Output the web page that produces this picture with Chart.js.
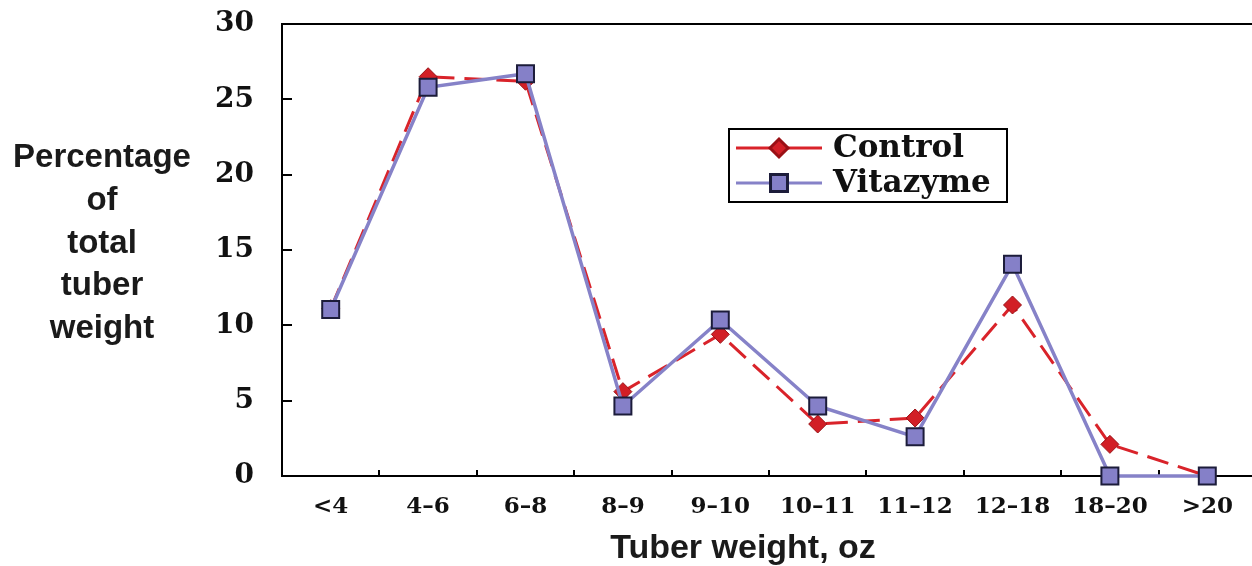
<!DOCTYPE html>
<html>
<head>
<meta charset="utf-8">
<script src="https://cdn.jsdelivr.net/npm/chart.js@4.4.0/dist/chart.umd.min.js"></script>
<style>
html, body { margin: 0; padding: 0; background: #fff; overflow: hidden; }
</style>
</head>
<body>
<canvas id="myChart" width="1270" height="566"></canvas>
<script>
const categories = ['<4', '4–6', '6–8', '8–9', '9–10', '10–11', '11–12', '12–18', '18–20', '>20'];
const control = [11.1, 26.5, 26.2, 5.6, 9.4, 3.45, 3.85, 11.35, 2.1, 0];
const vitazyme = [11.05, 25.8, 26.7, 4.65, 10.35, 4.65, 2.6, 14.05, 0, 0];
const yTicks = [0, 5, 10, 15, 20, 25, 30];
const yTitle = ['Percentage', 'of', 'total', 'tuber', 'weight'];
const xTitle = 'Tuber weight, oz';

const red = '#d9232a';
const blue = '#8682c8';

// inward tick marks, top frame line, axis titles and the boxed legend
const decor = {
    id: 'decor',
    beforeDatasetsDraw(chart) {
        const ctx = chart.ctx;
        const a = chart.chartArea;
        const x = chart.scales.x;
        const y = chart.scales.y;
        ctx.save();
        ctx.strokeStyle = '#000';
        ctx.lineWidth = 2;
        ctx.beginPath();
        ctx.moveTo(a.left - 1, a.top);
        ctx.lineTo(a.right, a.top);
        for (const v of yTicks) {
            const py = Math.round(y.getPixelForValue(v));
            ctx.moveTo(a.left, py);
            ctx.lineTo(a.left + 10, py);
        }
        for (let i = 1; i < categories.length; i++) {
            const px = Math.round((x.getPixelForValue(i - 1) + x.getPixelForValue(i)) / 2);
            ctx.moveTo(px, a.bottom);
            ctx.lineTo(px, a.bottom - 6);
        }
        ctx.stroke();
        ctx.restore();
    },
    afterDraw(chart) {
        const ctx = chart.ctx;
        ctx.save();
        ctx.fillStyle = '#1a1a1a';
        ctx.textAlign = 'center';
        ctx.textBaseline = 'alphabetic';
        ctx.font = 'bold 33px "Liberation Sans", Arial, sans-serif';
        yTitle.forEach(function (t, i) {
            ctx.fillText(t, 102, 167 + i * 42.8);
        });
        ctx.font = 'bold 34px "Liberation Sans", Arial, sans-serif';
        ctx.fillText(xTitle, 743, 558);

        // legend
        ctx.strokeStyle = '#000';
        ctx.lineWidth = 2;
        ctx.strokeRect(729, 129, 278, 73);
        const rows = [
            { label: chart.data.datasets[0].label, ds: chart.data.datasets[0], y: 148 },
            { label: chart.data.datasets[1].label, ds: chart.data.datasets[1], y: 183 },
        ];
        ctx.textAlign = 'left';
        ctx.textBaseline = 'middle';
        ctx.font = 'bold 31px "DejaVu Serif", serif';
        for (const r of rows) {
            ctx.strokeStyle = r.ds.borderColor;
            ctx.lineWidth = 3;
            ctx.beginPath();
            ctx.moveTo(736, r.y);
            ctx.lineTo(822, r.y);
            ctx.stroke();
            ctx.fillStyle = r.ds.pointBackgroundColor;
            ctx.strokeStyle = r.ds.pointBorderColor;
            Chart.helpers.drawPoint(ctx, {
                pointStyle: r.ds.pointStyle,
                radius: r.ds.pointRadius,
                borderWidth: r.ds.pointBorderWidth,
                rotation: 0,
            }, 779, r.y);
            ctx.fillStyle = '#111';
            ctx.fillText(r.label, 833, r.y + 1);
        }
        ctx.restore();
    }
};

new Chart(document.getElementById('myChart').getContext('2d'), {
    type: 'line',
    data: {
        labels: categories,
        datasets: [
            {
                label: 'Control',
                data: control,
                borderColor: red,
                borderWidth: 3,
                borderDash: [22, 10],
                pointStyle: 'rectRot',
                pointRadius: 9,
                pointBackgroundColor: '#d21f26',
                pointBorderColor: '#9a1015',
                pointBorderWidth: 1,
                tension: 0,
                clip: false,
                order: 1,
            },
            {
                label: 'Vitazyme',
                data: vitazyme,
                borderColor: blue,
                borderWidth: 3.5,
                pointStyle: 'rect',
                pointRadius: 12,
                pointBackgroundColor: '#8580c8',
                pointBorderColor: '#1c1c3a',
                pointBorderWidth: 2,
                tension: 0,
                clip: false,
                order: 0,
            },
        ],
    },
    options: {
        responsive: false,
        animation: false,
        layout: { padding: { top: 24, left: 0, right: 0, bottom: 0 } },
        plugins: {
            legend: { display: false },
            tooltip: { enabled: false },
        },
        scales: {
            x: {
                offset: true,
                // transparent tick marks only push the labels down
                grid: { display: true, drawOnChartArea: false, drawTicks: true, tickLength: 17, tickColor: 'rgba(0,0,0,0)' },
                border: { display: true, color: '#000', width: 2 },
                ticks: {
                    color: '#111',
                    padding: 0,
                    maxRotation: 0,
                    autoSkip: false,
                    font: { family: '"DejaVu Serif", serif', weight: 'bold', size: 23 },
                },
                afterFit: function (scale) { scale.height = 90; },
            },
            y: {
                min: 0,
                max: 30,
                afterBuildTicks: function (scale) {
                    scale.ticks = yTicks.map(v => ({ value: v }));
                },
                grid: { display: true, drawOnChartArea: false, drawTicks: true, tickLength: 28, tickColor: 'rgba(0,0,0,0)' },
                border: { display: true, color: '#000', width: 2 },
                ticks: {
                    color: '#111',
                    padding: 0,
                    font: { family: '"DejaVu Serif", serif', weight: 'bold', size: 28 },
                },
                afterFit: function (scale) { scale.width = 282; },
            },
        },
    },
    plugins: [decor],
});
</script>
</body>
</html>
